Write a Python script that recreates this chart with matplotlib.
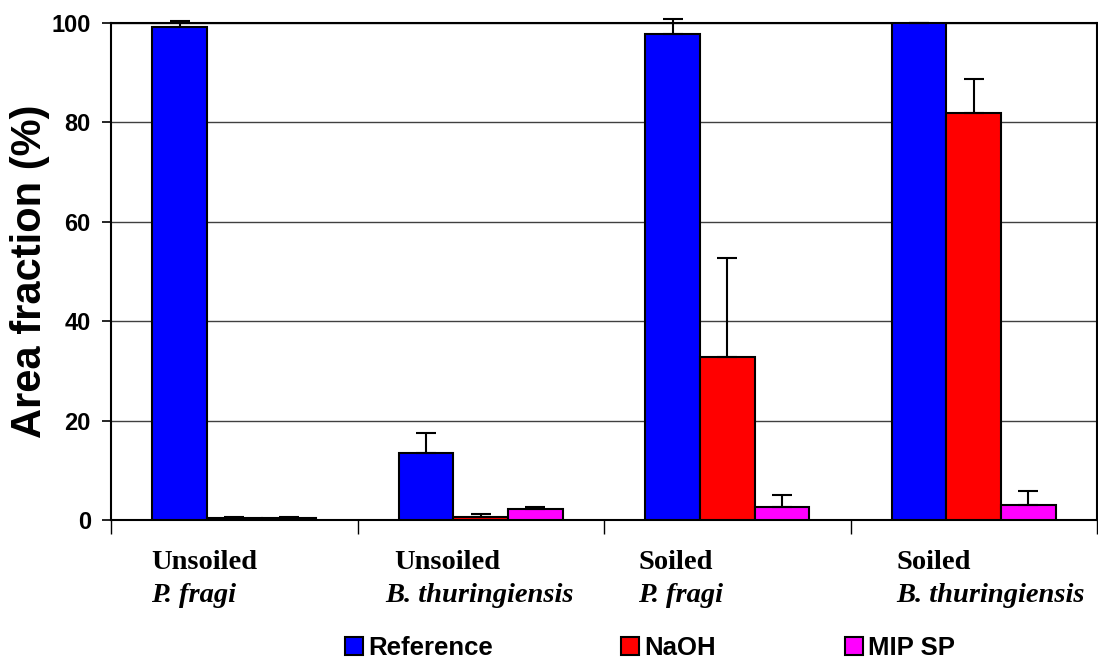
import numpy as np
import matplotlib
matplotlib.use("Agg")
import matplotlib.pyplot as plt
from matplotlib.patches import Patch
from matplotlib.transforms import blended_transform_factory

plt.rcParams["font.family"] = ["Liberation Sans", "DejaVu Sans"]

# data
groups_top = ["Unsoiled", "Unsoiled", "Soiled", "Soiled"]
groups_bottom = ["P. fragi", "B. thuringiensis", "P. fragi", "B. thuringiensis"]
series = ["Reference", "NaOH", "MIP SP"]
colors = ["#0000FF", "#FF0000", "#FF00FF"]

reference = [99.2, 13.5, 97.7, 100.0]
reference_err = [1.2, 4.0, 3.1, 0.0]
naoh = [0.4, 0.7, 32.8, 81.8]
naoh_err = [0.2, 0.45, 20.0, 6.9]
mip_sp = [0.4, 2.3, 2.7, 3.1]
mip_sp_err = [0.2, 0.4, 2.3, 2.7]

values = [reference, naoh, mip_sp]
errors = [reference_err, naoh_err, mip_sp_err]

fig = plt.figure(figsize=(10.98, 6.61), dpi=100)
ax = fig.add_axes([0.1011, 0.2133, 0.8980, 0.7519])

x = np.arange(len(groups_top))
w = 0.222
for i, (vals, errs, col, name) in enumerate(zip(values, errors, colors, series)):
    pos = x + (i - 1) * w
    ax.bar(pos, vals, width=w, color=col, edgecolor="black", linewidth=1.5,
           label=name, zorder=3)
    eb = ax.errorbar(pos, vals, yerr=[np.zeros(len(errs)), errs], fmt="none",
                     ecolor="black", elinewidth=1.5, capsize=7, capthick=1.5,
                     zorder=4)
    # caps above 100 stay visible, as in the original
    for art in eb.lines[1] + eb.lines[2]:
        art.set_clip_on(False)

ax.set_xlim(-0.5, 3.5)
ax.set_ylim(0, 100)
ax.set_yticks([0, 20, 40, 60, 80, 100])
ax.set_yticklabels(["0", "20", "40", "60", "80", "100"], fontsize=17, fontweight="bold")
ax.tick_params(axis="y", direction="out", length=6.5, width=1.2, pad=8)
ax.set_xticks([-0.5, 0.5, 1.5, 2.5, 3.5])
ax.set_xticklabels([])
ax.tick_params(axis="x", direction="out", length=10, width=1.0)
ax.yaxis.grid(True, color="#404040", linewidth=1.0, zorder=0)
ax.set_axisbelow(True)
for s in ax.spines.values():
    s.set_linewidth(1.5)
    s.set_color("black")

ax.set_ylabel("Area fraction (%)", fontsize=30, fontweight="bold", labelpad=1)

# two-line category labels
trans = blended_transform_factory(ax.transData, fig.transFigure)
top_x = [-0.338, 0.651, 1.638, 2.685]
bottom_x = [-0.338, 0.612, 1.638, 2.685]
for xt, xb, t, b in zip(top_x, bottom_x, groups_top, groups_bottom):
    ax.text(xt, 1 - 569 / 661, t, transform=trans, ha="left", va="baseline",
            fontsize=20.5, fontweight="bold", family=["Liberation Serif", "DejaVu Serif"])
    ax.text(xb, 1 - 602 / 661, b, transform=trans, ha="left", va="baseline",
            fontsize=20.5, fontweight="bold", fontstyle="italic",
            family=["Liberation Serif", "DejaVu Serif"], clip_on=False)

handles = [Patch(facecolor=c, edgecolor="black", linewidth=1.5) for c in colors]
fig.legend(handles, series, loc="center", bbox_to_anchor=(650 / 1098, 1 - 648 / 661),
           ncol=3, frameon=False, prop={"size": 18.5, "weight": "bold"},
           handlelength=0.7, handleheight=0.7, handletextpad=0.2, columnspacing=5.0)

fig.savefig("out.png", dpi=100)
